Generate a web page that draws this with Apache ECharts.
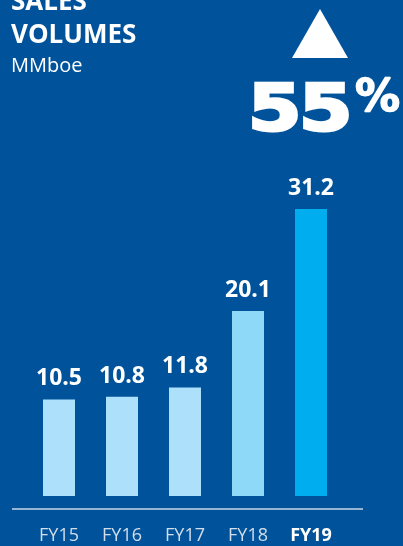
<!DOCTYPE html>
<html>
<head>
<meta charset="utf-8">
<script src="https://cdn.jsdelivr.net/npm/echarts@6/dist/echarts.min.js"></script>
<style>
  html, body { margin: 0; padding: 0; background: #00539b; }
  #main { width: 403px; height: 546px; }
</style>
</head>
<body>
<div id="main"></div>
<script>
// data
var years = ['FY15', 'FY16', 'FY17', 'FY18', 'FY19'];
var volumes = [10.5, 10.8, 11.8, 20.1, 31.2];
var barColors = ['#ace0fb', '#ace0fb', '#ace0fb', '#8ed8f8', '#00aeef'];

var chart = echarts.init(document.getElementById('main'));

var option = {
  backgroundColor: '#00539b',
  animation: false,
  grid: { left: 27.5, right: 60.5, top: 128, bottom: 50 },
  xAxis: {
    type: 'category',
    data: years,
    axisLine: { show: false },
    axisTick: { show: false },
    axisLabel: {
      interval: 0,
      margin: 31,
      fontFamily: 'Open Sans',
      fontSize: 18,
      color: '#d3deeb',
      formatter: function (v) {
        return v === 'FY19' ? '{b|' + v + '}' : v;
      },
      rich: {
        b: { fontFamily: 'Open Sans', fontSize: 18, fontWeight: 'bold', color: '#ffffff' }
      }
    }
  },
  yAxis: {
    type: 'value',
    min: 0,
    max: 40,
    show: false,
    splitLine: { show: false }
  },
  series: [{
    type: 'bar',
    barWidth: 32,
    data: volumes.map(function (v, i) {
      return { value: v, itemStyle: { color: barColors[i] } };
    }),
    label: {
      show: true,
      position: 'top',
      distance: 9,
      fontFamily: 'Open Sans',
      fontWeight: 'bold',
      fontSize: 23,
      color: '#ffffff',
      formatter: function (p) { return p.value.toFixed(1); }
    }
  }],
  graphic: [
    { type: 'text', left: 11, top: -10, style: { text: 'SALES', fontFamily: 'Open Sans', fontWeight: 'bold', fontSize: 26, fill: '#fff' } },
    { type: 'text', left: 11, top: 23, style: { text: 'VOLUMES', fontFamily: 'Open Sans', fontWeight: 'bold', fontSize: 26, fill: '#fff' } },
    { type: 'text', left: 11, top: 56, style: { text: 'MMboe', fontFamily: 'Open Sans', fontSize: 20, fill: '#fff' } },
    { type: 'polygon', shape: { points: [[320, 9], [348, 58], [292, 58]] }, style: { fill: '#fff' } },
    // big heavy "55": two glyphs drawn a bit tighter than the font's spacing
    { type: 'text', x: 248, y: 81, scaleX: 1.2, style: { x: 0, y: 0, text: '5', fontFamily: 'DejaVu Sans', fontWeight: 'bold', fontSize: 64, fill: '#fff', stroke: '#fff', lineWidth: 3 } },
    { type: 'text', x: 299, y: 81, scaleX: 1.2, style: { x: 0, y: 0, text: '5', fontFamily: 'DejaVu Sans', fontWeight: 'bold', fontSize: 64, fill: '#fff', stroke: '#fff', lineWidth: 3 } },
    { type: 'text', x: 355, y: 77, style: { x: 0, y: 0, text: '%', fontFamily: 'DejaVu Sans', fontWeight: 'bold', fontSize: 45, fill: '#fff', stroke: '#fff', lineWidth: 1.5 } },
    { type: 'line', shape: { x1: 12, y1: 509, x2: 363, y2: 509 }, style: { stroke: '#c9d6e6', lineWidth: 1.5 } }
  ]
};

chart.setOption(option);
</script>
</body>
</html>
